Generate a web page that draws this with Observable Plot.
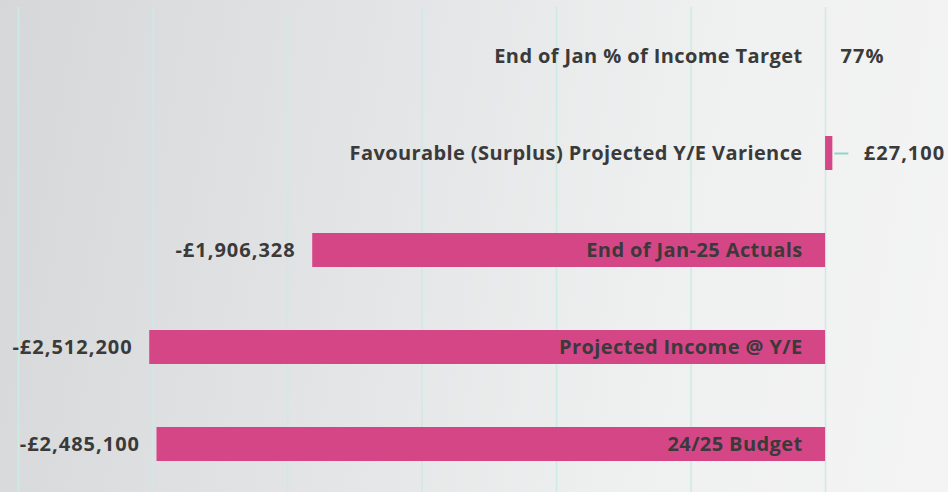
<!DOCTYPE html>
<html>
<head>
<meta charset="utf-8">
<script src="https://cdn.jsdelivr.net/npm/d3@7"></script>
<script src="https://cdn.jsdelivr.net/npm/@observablehq/plot@0.6"></script>
<style>
  html, body { margin: 0; padding: 0; }
  body {
    width: 948px; height: 492px; overflow: hidden;
    background: linear-gradient(100deg, #d6d7d9 0%, #e4e5e6 40%, #eff0f0 70%, #f4f4f4 100%);
    font-family: "Open Sans", sans-serif;
  }
  #chart svg { display: block; background: transparent; }
</style>
</head>
<body>
<div id="chart"></div>
<script>
const categories = [
  "End of Jan % of Income Target",
  "Favourable (Surplus) Projected Y/E Varience",
  "End of Jan-25 Actuals",
  "Projected Income @ Y/E",
  "24/25 Budget"
];
const values = [0, 27100, -1906328, -2512200, -2485100];
const valueLabels = ["77%", "£27,100", "-£1,906,328", "-£2,512,200", "-£2,485,100"];
const gridTicks = [-3000000, -2500000, -2000000, -1500000, -1000000, -500000, 0];

const rows = categories.map((c, i) => ({category: c, value: values[i], label: valueLabels[i]}));
const negRows = rows.filter(d => d.value < 0);
const posRows = rows.filter(d => d.value > 0);
const zeroRows = rows.filter(d => d.value === 0);

const textColor = "#3a3a3a";
const font = {fontFamily: "Open Sans", fontWeight: "bold", fontSize: 20, fill: textColor};

const chart = Plot.plot({
  width: 948,
  height: 492,
  marginTop: 7,
  marginBottom: 0,
  marginLeft: 18,
  marginRight: 0,
  style: {background: "transparent", overflow: "visible"},
  x: {domain: [-3000000, 457000], axis: null},
  y: {domain: categories, axis: null, paddingInner: 0.65, paddingOuter: 0.325},
  marks: [
    Plot.ruleX(gridTicks, {stroke: "#cdeae5", strokeWidth: 1.5}),
    Plot.barX(rows.filter(d => d.value !== 0), {x: "value", y: "category", fill: "#d54687"}),
    Plot.ruleY(posRows, {y: "category", x1: "value", x2: "value", insetLeft: 2, insetRight: -16, stroke: "#8fd6ca", strokeWidth: 2}),
    Plot.text(rows, {x: () => 0, y: "category", text: "category", textAnchor: "end", dx: -23, ...font}),
    Plot.text(negRows, {x: "value", y: "category", text: "label", textAnchor: "end", dx: -17, ...font}),
    Plot.text(posRows, {x: "value", y: "category", text: "label", textAnchor: "start", dx: 31, ...font}),
    Plot.text(zeroRows, {x: "value", y: "category", text: "label", textAnchor: "start", dx: 15, ...font})
  ]
});
const textGroups = d3.select(chart).selectAll('g[aria-label="text"]');
textGroups.each(function(_, i) {
  d3.select(this).style("letter-spacing", i === 0 ? "0.4px" : "1px");
});
document.getElementById("chart").append(chart);
</script>
</body>
</html>
